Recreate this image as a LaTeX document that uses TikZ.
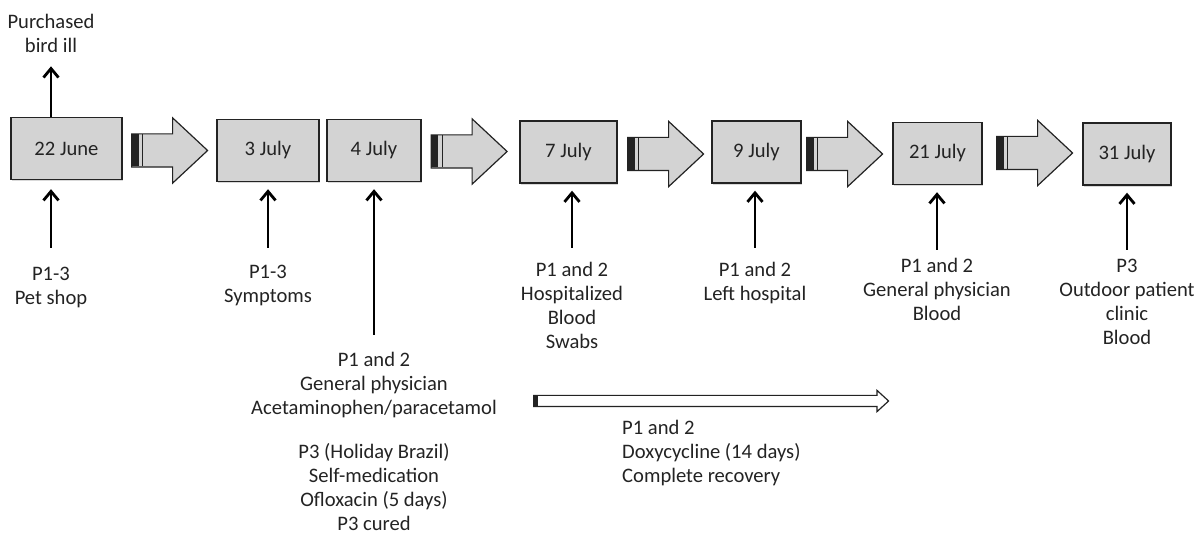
\documentclass[tikz,border=0pt]{standalone}
\usepackage{fontspec}
\setmainfont{Carlito}
\usetikzlibrary{arrows.meta}
\usetikzlibrary{positioning}
\usetikzlibrary{shapes.arrows}
\usetikzlibrary{shadows}

\definecolor{boxgray}{HTML}{D3D3D3}
\definecolor{inkgray}{HTML}{232323}

\begin{document}
\begin{tikzpicture}[
    x=1pt, y=1pt,
    every node/.style={font=\fontsize{20.6}{24}\selectfont, text=inkgray},
    datebox/.style={rectangle, draw=inkgray, line width=1.4pt, fill=boxgray, minimum height=62pt,
        drop shadow={shadow xshift=1.2pt, shadow yshift=-1.6pt, opacity=.3}},
    bigarrow/.style={single arrow, anchor=tail, draw=inkgray, line width=1.2pt, fill=boxgray, minimum height=76pt,
        inner xsep=0pt, inner ysep=16pt, single arrow head extend=16pt, single arrow tip angle=86,
        path picture={
            \fill[inkgray] (path picture bounding box.west) ++(0,-16) rectangle ++(7,32);
            \draw[inkgray, line width=1.2pt] (path picture bounding box.west) ++(11,-16) -- ++(0,32);}},
    doxarrow/.style={single arrow, anchor=tail, draw=inkgray, line width=1.2pt, fill=white, minimum height=355pt,
        inner xsep=0pt, inner ysep=5pt, single arrow head extend=5pt, single arrow tip angle=85,
        path picture={\fill[inkgray] (path picture bounding box.west) ++(0,-5) rectangle ++(4,10);}},
    note/.style={align=center, inner sep=0pt},
    up/.style={-{Straight Barb[length=9pt,width=15pt]}, line width=2.8pt, shorten >=7pt}
]
\useasboundingbox (0,0) rectangle (1195,536);

% Dates
\node[datebox, minimum width=111pt] (d22) at (66.5,387.5) {22 June};
\node[datebox, minimum width=102pt] (d3) at (268,385.5) {3 July};
\node[datebox, minimum width=94pt] (d4) at (374,385.5) {4 July};
\node[datebox, minimum width=97pt] (d7) at (568.5,384) {7 July};
\node[datebox, minimum width=89pt] (d9) at (756.5,384) {9 July};
\node[datebox, minimum width=89pt] (d21) at (937.5,382.5) {21 July};
\node[datebox, minimum width=88pt] (d31) at (1127,382) {31 July};

% Block arrows
\node[bigarrow] (a1) at (131,385.5) {};
\node[bigarrow] (a2) at (430.5,384.5) {};
\node[bigarrow] (a3) at (627,382) {};
\node[bigarrow] (a4) at (806,382) {};
\node[bigarrow] (a5) at (996,383) {};

% Notes
\node[note, anchor=north] (n22top) at (51,521.5) {Purchased\\bird ill};
\node[note, anchor=north] (n22) at (51,269) {P1-3\\Pet shop};
\node[note, anchor=north] (n3) at (268,271) {P1-3\\Symptoms};
\node[note, anchor=north] (n4) at (374,184) {P1 and 2\\General physician\\Acetaminophen/paracetamol\\[20pt]
    P3 (Holiday Brazil)\\Self-medication\\Ofloxacin (5 days)\\P3 cured};
\node[note, anchor=north] (n7) at (572,274) {P1 and 2\\Hospitalized\\Blood\\Swabs};
\node[note, anchor=north] (n9) at (755,274) {P1 and 2\\Left hospital};
\node[note, anchor=north] (n21) at (937,278) {P1 and 2\\General physician\\Blood};
\node[note, anchor=north] (n31) at (1127,277) {P3\\Outdoor patient\\clinic\\Blood};

% Treatment
\node[doxarrow] (dox) at (533,135) {};
\node[note, align=left, anchor=north west] (doxnote) at (622,116) {P1 and 2\\Doxycycline (14 days)\\Complete recovery};

% Edges
\draw[up, shorten >=13pt, shorten <=0pt] (n22top.south |- d22.north) -- (n22top.south);
\draw[up, shorten <=19pt, shorten >=9pt] (n22.north) -- (n22.north |- d22.south);
\draw[up, shorten <=17pt] (n3.north) -- (d3);
\draw[up, shorten <=17pt] (n4.north) -- (d4);
\draw[up, shorten <=14pt] (n7.north) -- (n7.north |- d7.south);
\draw[up, shorten <=14pt] (n9.north) -- (n9.north |- d9.south);
\draw[up, shorten <=8pt] (n21.north) -- (n21.north |- d21.south);
\draw[up, shorten <=9pt] (n31.north) -- (d31);

\end{tikzpicture}
\end{document}
